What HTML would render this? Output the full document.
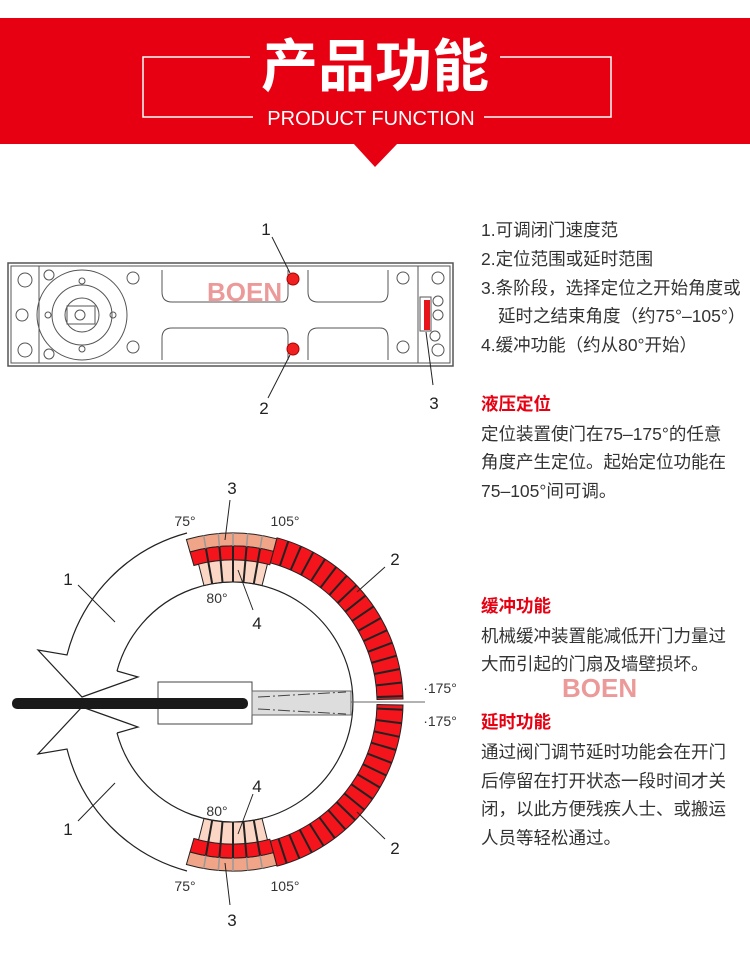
<!DOCTYPE html>
<html><head><meta charset="utf-8"><style>
body{margin:0;width:750px;height:969px;background:#fff;overflow:hidden;position:relative;font-family:"Liberation Sans","Noto Sans CJK SC",sans-serif}
.t{position:absolute;left:481px;font-size:17.5px;color:#333;white-space:nowrap;line-height:20px}
.h{color:#e60012;font-weight:bold}
</style></head><body>
<svg width="750" height="969" style="position:absolute;left:0;top:0" id="s">
<rect x="0" y="18" width="750" height="126" fill="#e60012"/>
<polygon points="353,143 398,143 375,167" fill="#e60012"/>
<polyline points="250,57 143,57 143,117 253,117" fill="none" stroke="#fff" stroke-width="1.5"/>
<polyline points="500,57 611,57 611,117 484,117" fill="none" stroke="#fff" stroke-width="1.5"/>
<text x="375" y="86" font-size="57" font-weight="bold" fill="#fff" text-anchor="middle" font-family="Noto Sans CJK SC,sans-serif">产品功能</text>
<text x="371" y="125" font-size="20" fill="#fff" text-anchor="middle" font-family="Liberation Sans,sans-serif">PRODUCT FUNCTION</text>

<!-- device -->
<g fill="none" stroke="#555" stroke-width="1">
<rect x="8" y="263" width="445" height="103" stroke-width="1.5"/>
<rect x="11" y="266" width="439" height="97"/>
<line x1="39" y1="266" x2="39" y2="363"/>
<circle cx="82" cy="315" r="45"/>
<circle cx="82" cy="315" r="30"/>
<circle cx="82" cy="315" r="17"/>
<rect x="67" y="306" width="28" height="18"/>
<circle cx="80" cy="315" r="5"/>
<circle cx="82" cy="281" r="3"/><circle cx="82" cy="349" r="3"/><circle cx="48" cy="315" r="3"/><circle cx="113" cy="315" r="3"/>
<circle cx="25" cy="280" r="7"/><circle cx="22" cy="315" r="6"/><circle cx="25" cy="350" r="7"/>
<circle cx="49" cy="275" r="5"/><circle cx="49" cy="354" r="5"/>
<circle cx="133" cy="278" r="6"/><circle cx="133" cy="347" r="6"/>
<circle cx="403" cy="278" r="6"/><circle cx="403" cy="347" r="6"/>
<path d="M162,270 v22 q0,10 10,10 h110 q6,0 6,-8 v-24"/>
<path d="M162,360 v-22 q0,-10 10,-10 h110 q6,0 6,8 v24"/>
<path d="M308,270 v22 q0,10 10,10 h62 q8,0 8,-10 v-22"/>
<path d="M308,360 v-22 q0,-10 10,-10 h62 q8,0 8,10 v22"/>
<line x1="418" y1="266" x2="418" y2="363"/>
<circle cx="438" cy="278" r="6"/><circle cx="438" cy="301" r="5"/><circle cx="438" cy="315" r="5"/><circle cx="435" cy="336" r="5"/><circle cx="438" cy="350" r="6"/>
<rect x="420" y="297" width="11" height="34"/>
</g>
<rect x="424" y="300" width="6" height="30" fill="#e8141c"/>
<circle cx="293" cy="279" r="6" fill="#f02020" stroke="#a00"/>
<circle cx="293" cy="349" r="6" fill="#f02020" stroke="#a00"/>
<g stroke="#222" stroke-width="1"><line x1="272" y1="237" x2="290" y2="273"/><line x1="268" y1="398" x2="290" y2="355"/><line x1="433" y1="385" x2="426" y2="332"/></g>
<g font-size="17" fill="#222" font-family="Liberation Sans,sans-serif" text-anchor="middle">
<text x="266" y="235">1</text><text x="264" y="414">2</text><text x="434" y="409">3</text></g>
<text x="207" y="301" font-size="26" font-weight="bold" fill="#e88080" opacity="0.8" font-family="Liberation Sans,sans-serif">BOEN</text>
<text x="562" y="697" font-size="26" font-weight="bold" fill="#e88080" opacity="0.8" font-family="Liberation Sans,sans-serif">BOEN</text>

<g id="ring"></g>
<g fill="none" stroke="#222" stroke-width="1.2" id="lines">
<path d="M187,533 A169,169 0 0 0 67,655 L38,650 L82,697 L138,677 L117,671"/>
<path d="M187,871 A169,169 0 0 1 67,749 L38,754 L82,707 L138,727 L117,733"/>
<path d="M117,671 A120,120 0 1 1 117,733"/>
</g>
<rect x="158" y="682" width="94" height="42" fill="#fff" stroke="#444"/>
<rect x="252" y="691" width="99" height="24" fill="#ddd" stroke="#666"/>
<line x1="258" y1="697" x2="346" y2="692" stroke="#444" stroke-dasharray="12,3,2,3"/>
<line x1="258" y1="709" x2="346" y2="714" stroke="#444" stroke-dasharray="12,3,2,3"/>
<line x1="351" y1="702" x2="425" y2="702" stroke="#666"/>
<rect x="12" y="698" width="236" height="11" rx="5" fill="#1a1a1a"/>
<g stroke="#222" stroke-width="1">
<line x1="78" y1="585" x2="115" y2="622"/><line x1="385" y1="567" x2="357" y2="592"/><line x1="230" y1="500" x2="225" y2="540"/><line x1="253" y1="610" x2="238" y2="570"/>
<line x1="78" y1="821" x2="115" y2="783"/><line x1="385" y1="839" x2="357" y2="812"/><line x1="230" y1="905" x2="225" y2="863"/><line x1="253" y1="794" x2="238" y2="834"/>
</g>
<g font-family="Liberation Sans,sans-serif" fill="#222" text-anchor="middle">
<g font-size="17"><text x="232" y="494">3</text><text x="395" y="565">2</text><text x="68" y="585">1</text><text x="257" y="629">4</text>
<text x="257" y="792">4</text><text x="68" y="835">1</text><text x="395" y="854">2</text><text x="232" y="926">3</text></g>
<g font-size="14" fill="#333"><text x="185" y="526">75°</text><text x="285" y="526">105°</text><text x="217" y="603">80°</text>
<text x="217" y="816">80°</text><text x="185" y="891">75°</text><text x="285" y="891">105°</text>
<text x="440" y="693">·175°</text><text x="440" y="726">·175°</text></g></g>
</svg>
<div class="t" style="top:220px">1.可调闭门速度范</div>
<div class="t" style="top:249px">2.定位范围或延时范围</div>
<div class="t" style="top:278px">3.条阶段，选择定位之开始角度或</div>
<div class="t" style="top:306px;left:498px">延时之结束角度（约75°–105°）</div>
<div class="t" style="top:335px">4.缓冲功能（约从80°开始）</div>
<div class="t h" style="top:394px">液压定位</div>
<div class="t" style="top:424px">定位装置使门在75–175°的任意</div>
<div class="t" style="top:452px">角度产生定位。起始定位功能在</div>
<div class="t" style="top:481px">75–105°间可调。</div>
<div class="t h" style="top:596px">缓冲功能</div>
<div class="t" style="top:626px">机械缓冲装置能减低开门力量过</div>
<div class="t" style="top:654px">大而引起的门扇及墙壁损坏。</div>
<div class="t h" style="top:712px">延时功能</div>
<div class="t" style="top:742px">通过阀门调节延时功能会在开门</div>
<div class="t" style="top:771px">后停留在打开状态一段时间才关</div>
<div class="t" style="top:799px">闭，以此方便残疾人士、或搬运</div>
<div class="t" style="top:828px">人员等轻松通过。</div>
<script>
var cx=233,cy=702,g=document.getElementById('ring'),h='';
function P(r,a){a=a*Math.PI/180;return (cx+r*Math.sin(a)).toFixed(1)+','+(cy-r*Math.cos(a)).toFixed(1);}
function seg(r1,r2,a1,a2,f){return '<path d="M'+P(r1,a1)+' A'+r1+','+r1+' 0 0 1 '+P(r1,a2)+' L'+P(r2,a2)+' A'+r2+','+r2+' 0 0 0 '+P(r2,a1)+'Z" fill="'+f+'" stroke="#222" stroke-width="1"/>';}
function ln(r1,r2,a,c,w){return '<line x1="'+P(r1,a).split(',')[0]+'" y1="'+P(r1,a).split(',')[1]+'" x2="'+P(r2,a).split(',')[0]+'" y2="'+P(r2,a).split(',')[1]+'" stroke="'+c+'" stroke-width="'+w+'"/>';}
h+=seg(144,170,15,89,'#f4141c');h+=seg(144,170,91,165,'#f4141c');
for(var a=19;a<165;a+=4.6){if(Math.abs(a-90)>1.5)h+=ln(144,170,a,'#222',2);}
[[0,1],[180,-1]].forEach(function(o){var b=o[0],s=o[1];
function A(x){return b+s*x;}
var a1=Math.min(A(-16),A(15)),a2=Math.max(A(-16),A(15));
h+=seg(156,169,a1,a2,'#f0a488');h+=seg(142,156,a1,a2,'#f4141c');
var p1=Math.min(A(-14),A(14)),p2=Math.max(A(-14),A(14));
h+=seg(120,142,p1,p2,'#fbd6c4');
for(var x=-10;x<=14;x+=5){h+=ln(156,169,A(x),'#999',1.5);h+=ln(120,156,A(x),'#222',2);}
});
g.innerHTML=h;
</script>
</body></html>
